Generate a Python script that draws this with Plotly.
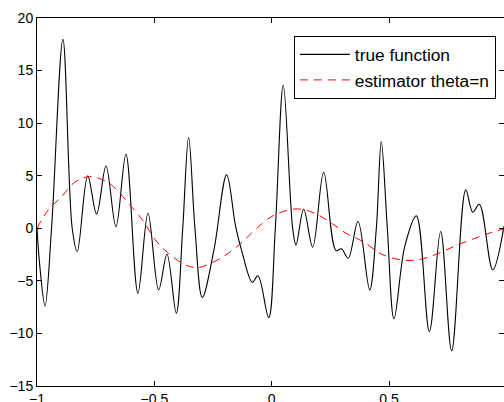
import plotly.graph_objects as go

# true function
true_x = [-1.0, -0.988, -0.966, -0.938, -0.8896, -0.850, -0.8285, -0.784, -0.746, -0.706,
          -0.6637, -0.621, -0.570, -0.527, -0.4817, -0.446, -0.4066, -0.379, -0.354, -0.327,
          -0.2957, -0.246, -0.192, -0.1535, -0.125, -0.0826, -0.0584, -0.0128, 0.0155, 0.0495,
          0.0894, 0.1036, 0.1364, 0.1748, 0.2216, 0.274, 0.297, 0.326, 0.368, 0.4177,
          0.446, 0.467, 0.4928, 0.5213, 0.567, 0.6165, 0.672, 0.720, 0.767, 0.827,
          0.857, 0.885, 0.942, 0.990]
true_y = [0.0, -3.6, -7.38, 0.0, 17.97, 0.0, -2.21, 4.98, 1.37, 5.93,
          0.16, 7.04, -6.17, 1.43, -5.86, -2.47, -8.07, 0.0, 8.66, 0.0,
          -6.58, -2.05, 5.08, 0.16, -2.37, -5.13, -4.52, -8.49, 0.0, 13.63,
          0.0, -1.58, 1.81, -1.80, 5.33, -2.12, -1.95, -2.85, 0.64, -5.86,
          0.0, 8.24, 0.0, -8.61, -1.74, 1.18, -9.82, -0.31, -11.65, 3.65,
          1.53, 2.29, -3.95, 0.2]

# estimator theta=n
est_x = [-1.0, -0.952, -0.895, -0.841, -0.775, -0.6965, -0.6637, -0.5955, -0.5456, -0.496,
         -0.432, -0.361, -0.31, -0.2105, -0.139, -0.068, -0.0115, 0.047, 0.1176, 0.189,
         0.26, 0.3167, 0.389, 0.4744, 0.573, 0.645, 0.72, 0.79, 0.86, 0.93, 0.99]
est_y = [0.0, 1.75, 3.0, 4.35, 4.92, 4.35, 3.72, 2.0, 0.64, -1.1,
         -2.53, -3.54, -3.73, -2.75, -1.58, -0.09, 0.96, 1.59, 1.84, 1.37,
         0.42, -0.47, -1.26, -2.53, -3.05, -2.9, -2.3, -1.6, -1.0, -0.45, -0.05]

x_ticks = [-1, -0.5, 0, 0.5, 1]
x_labels = ["\u22121", "\u22120.5", "0", "0.5", "1"]
y_ticks = [-15, -10, -5, 0, 5, 10, 15, 20]
y_labels = ["\u221215", "\u221210", "\u22125", "0", "5", "10", "15", "20"]

FONT = "Arial, Liberation Sans, sans-serif"

fig = go.Figure()
fig.add_trace(go.Scatter(x=true_x, y=true_y, mode="lines", name="true function",
                         line=dict(color="black", width=1.1, shape="spline", smoothing=1)))
fig.add_trace(go.Scatter(x=est_x, y=est_y, mode="lines", name="estimator theta=n",
                         line=dict(color="red", width=1, dash="8px,6px", shape="spline", smoothing=1)))
fig.add_trace(go.Scatter(x=[], y=[], yaxis="y2", showlegend=False, hoverinfo="skip"))

fig.update_layout(
    width=504, height=402,
    margin=dict(l=37, r=0, t=18, b=16, autoexpand=False),
    paper_bgcolor="white", plot_bgcolor="white",
    font=dict(family=FONT, size=14, color="black"),
    showlegend=True,
    legend=dict(x=0.55, y=0.952, xanchor="left", yanchor="top",
                bgcolor="white", bordercolor="black", borderwidth=1,
                font=dict(family=FONT, size=17.3, color="black"),
                itemwidth=50, tracegroupgap=0),
    xaxis=dict(range=[-1, 0.990], tickvals=x_ticks, ticktext=x_labels,
               showline=True, linecolor="black", linewidth=1, mirror="ticks",
               ticks="inside", ticklen=5, tickcolor="black",
               showgrid=False, zeroline=False, automargin=False),
    yaxis=dict(range=[-15, 20], tickvals=y_ticks, ticktext=y_labels,
               showline=True, linecolor="black", linewidth=1, mirror=False,
               ticks="inside", ticklen=5, tickcolor="black",
               showgrid=False, zeroline=False, automargin=False),
    yaxis2=dict(range=[-15, 20], tickvals=y_ticks, overlaying="y", side="right",
                showticklabels=False, showline=False, ticks="inside", ticklen=5,
                tickcolor="black", showgrid=False, zeroline=False, automargin=False),
)

fig.write_html("out.html", config={"displayModeBar": False},
               post_script="document.body.style.margin='0';document.body.style.overflow='hidden';")
